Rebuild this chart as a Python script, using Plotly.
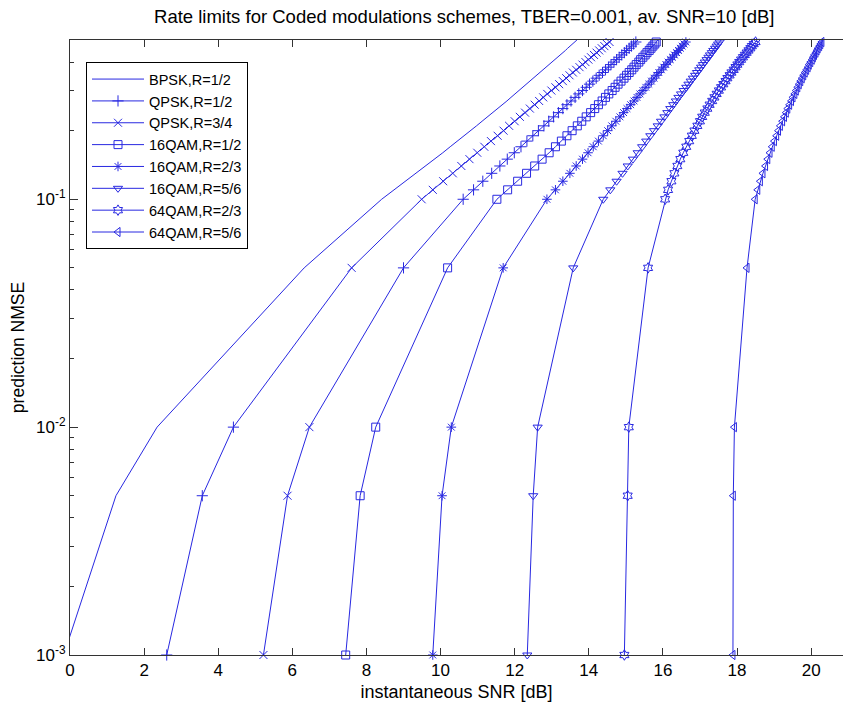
import plotly.graph_objects as go

# Prediction NMSE levels (y) shared by every curve
nmse = [0.001, 0.005, 0.01, 0.05,
        0.10, 0.11, 0.12, 0.13, 0.14, 0.15, 0.16, 0.17, 0.18, 0.19,
        0.20, 0.21, 0.22, 0.23, 0.24, 0.25, 0.26, 0.27, 0.28, 0.29,
        0.30, 0.31, 0.32, 0.33, 0.34, 0.35, 0.36, 0.37, 0.38, 0.39,
        0.40, 0.41, 0.42, 0.43, 0.44, 0.45, 0.46, 0.47, 0.48, 0.49, 0.50]

# Required instantaneous SNR [dB] for each scheme at the NMSE levels above
bpsk_12 = [-0.17, 1.24, 2.35, 6.32,
           8.41, 8.75, 9.06, 9.34, 9.60, 9.84, 10.06, 10.26, 10.46, 10.64,
           10.81, 10.97, 11.12, 11.27, 11.41, 11.54, 11.67, 11.79, 11.90, 12.01,
           12.12, 12.23, 12.32, 12.42, 12.51, 12.60, 12.69, 12.77, 12.86, 12.94,
           13.01, 13.09, 13.16, 13.23, 13.30, 13.37, 13.43, 13.50, 13.56, 13.62, 13.68]
qpsk_12 = [2.61, 3.57, 4.41, 7.60,
           9.49, 9.79, 10.07, 10.33, 10.56, 10.78, 10.99, 11.18, 11.36, 11.54,
           11.70, 11.85, 12.00, 12.14, 12.28, 12.41, 12.54, 12.66, 12.77, 12.88,
           12.99, 13.10, 13.20, 13.30, 13.39, 13.48, 13.57, 13.66, 13.75, 13.83,
           13.91, 13.99, 14.06, 14.14, 14.21, 14.28, 14.35, 14.42, 14.49, 14.56, 14.62]
qpsk_34 = [5.22, 5.87, 6.46, 9.00,
           10.61, 10.89, 11.14, 11.38, 11.60, 11.80, 11.99, 12.17, 12.33, 12.49,
           12.64, 12.79, 12.92, 13.05, 13.18, 13.30, 13.41, 13.52, 13.63, 13.73,
           13.83, 13.93, 14.02, 14.11, 14.20, 14.28, 14.37, 14.45, 14.53, 14.60,
           14.68, 14.75, 14.82, 14.89, 14.96, 15.02, 15.09, 15.15, 15.21, 15.27, 15.33]
qam16_12 = [7.44, 7.83, 8.25, 10.19,
            11.52, 11.81, 12.08, 12.32, 12.54, 12.74, 12.93, 13.10, 13.26, 13.41,
            13.55, 13.69, 13.81, 13.93, 14.05, 14.16, 14.26, 14.36, 14.45, 14.54,
            14.63, 14.71, 14.79, 14.87, 14.95, 15.02, 15.09, 15.16, 15.22, 15.28,
            15.35, 15.40, 15.46, 15.52, 15.57, 15.63, 15.68, 15.73, 15.78, 15.82, 15.87]
qam16_23 = [9.79, 10.04, 10.29, 11.69,
            12.87, 13.10, 13.30, 13.49, 13.66, 13.83, 13.98, 14.12, 14.26, 14.39,
            14.51, 14.62, 14.73, 14.84, 14.94, 15.03, 15.13, 15.22, 15.30, 15.38,
            15.46, 15.54, 15.62, 15.69, 15.76, 15.83, 15.89, 15.96, 16.02, 16.08,
            16.14, 16.20, 16.26, 16.31, 16.37, 16.42, 16.47, 16.52, 16.57, 16.62, 16.67]
qam16_56 = [12.34, 12.50, 12.62, 13.58,
            14.39, 14.58, 14.75, 14.91, 15.05, 15.19, 15.32, 15.44, 15.55, 15.66,
            15.76, 15.86, 15.95, 16.04, 16.12, 16.20, 16.28, 16.35, 16.42, 16.49,
            16.56, 16.63, 16.69, 16.75, 16.81, 16.87, 16.92, 16.98, 17.03, 17.08,
            17.13, 17.18, 17.23, 17.27, 17.32, 17.36, 17.41, 17.45, 17.49, 17.53, 17.57]
qam64_23 = [14.96, 15.05, 15.08, 15.60,
            16.06, 16.14, 16.23, 16.31, 16.39, 16.47, 16.55, 16.63, 16.71, 16.78,
            16.85, 16.93, 17.00, 17.06, 17.13, 17.20, 17.26, 17.33, 17.39, 17.45,
            17.51, 17.57, 17.63, 17.69, 17.74, 17.80, 17.85, 17.91, 17.96, 18.01,
            18.06, 18.11, 18.16, 18.21, 18.26, 18.31, 18.36, 18.40, 18.45, 18.50, 18.54]
qam64_56 = [17.89, 17.90, 17.93, 18.27,
            18.49, 18.56, 18.63, 18.70, 18.77, 18.83, 18.89, 18.95, 19.01, 19.07,
            19.12, 19.17, 19.23, 19.28, 19.33, 19.37, 19.42, 19.47, 19.51, 19.56,
            19.60, 19.64, 19.68, 19.72, 19.76, 19.80, 19.84, 19.88, 19.92, 19.95,
            19.99, 20.03, 20.06, 20.09, 20.13, 20.16, 20.19, 20.23, 20.26, 20.29, 20.32]

names = ["BPSK,R=1/2", "QPSK,R=1/2", "QPSK,R=3/4", "16QAM,R=1/2",
         "16QAM,R=2/3", "16QAM,R=5/6", "64QAM,R=2/3", "64QAM,R=5/6"]
curves = [bpsk_12, qpsk_12, qpsk_34, qam16_12, qam16_23, qam16_56, qam64_23, qam64_56]

n = len(nmse)
# marker symbols per curve; the two QPSK polylines swap glyphs above NMSE = 0.01
symbols = [
    None,
    ["cross-thin-open"] * 3 + ["x-thin-open"] * (n - 3),
    ["x-thin-open"] * 3 + ["cross-thin-open"] * (n - 3),
    "square-open",
    "asterisk-open",
    "triangle-down-open",
    "hexagram-open",
    "triangle-left-open",
]

blue = "rgb(40,40,225)"
font_family = "Arial, 'Liberation Sans', Helvetica, sans-serif"

fig = go.Figure()
for name, xs, sym in zip(names, curves, symbols):
    if sym is None:
        fig.add_trace(go.Scatter(x=xs, y=nmse, name=name, mode="lines",
                                 line=dict(color=blue, width=1)))
    else:
        fig.add_trace(go.Scatter(
            x=xs, y=nmse, name=name, mode="lines+markers",
            line=dict(color=blue, width=1),
            marker=dict(symbol=sym, size=8, color=blue,
                        line=dict(color=blue, width=1)),
            cliponaxis=False))

minor_vals = ([k * 1e-3 for k in range(2, 10)] + [k * 1e-2 for k in range(2, 10)]
              + [k * 1e-1 for k in range(2, 6)])

fig.update_layout(
    width=843, height=703,
    margin=dict(l=70, r=0, t=40, b=48),
    paper_bgcolor="white", plot_bgcolor="white",
    font=dict(family=font_family, color="black", size=17),
    title=dict(text="Rate limits for Coded modulations schemes, TBER=0.001, av. SNR=10 [dB]",
               font=dict(size=18.5, color="black"),
               xref="paper", x=0.51, xanchor="center",
               yref="container", y=1 - 17 / 703, yanchor="middle"),
    showlegend=True,
    legend=dict(x=0.0207, y=0.964, xanchor="left", yanchor="top",
                bgcolor="white", bordercolor="black", borderwidth=1,
                font=dict(size=14.5, color="black"),
                itemwidth=52, tracegroupgap=0),
    xaxis=dict(range=[0, 20.86], showgrid=False, zeroline=False,
               showline=True, linecolor="#333333", linewidth=1, mirror="ticks",
               ticks="inside", ticklen=7, tickcolor="#333333",
               tickmode="array", tickvals=[0, 2, 4, 6, 8, 10, 12, 14, 16, 18, 20],
               tickfont=dict(size=17),
               title=dict(text="instantaneous SNR [dB]", font=dict(size=18), standoff=5)),
    yaxis=dict(type="log", range=[-3, -0.30103], showgrid=False, zeroline=False,
               showline=True, linecolor="#333333", linewidth=1,
               ticks="inside", ticklen=8, tickcolor="#333333",
               tickmode="array", tickvals=[0.001, 0.01, 0.1],
               ticktext=["10<sup>-3</sup>", "10<sup>-2</sup>", "10<sup>-1</sup>"],
               tickfont=dict(size=17),
               minor=dict(tickmode="array", tickvals=minor_vals, ticks="inside",
                          ticklen=4, tickcolor="#333333", showgrid=False),
               title=dict(text="prediction NMSE", font=dict(size=17.5), standoff=6)),
)

fig.write_html("out.html")
